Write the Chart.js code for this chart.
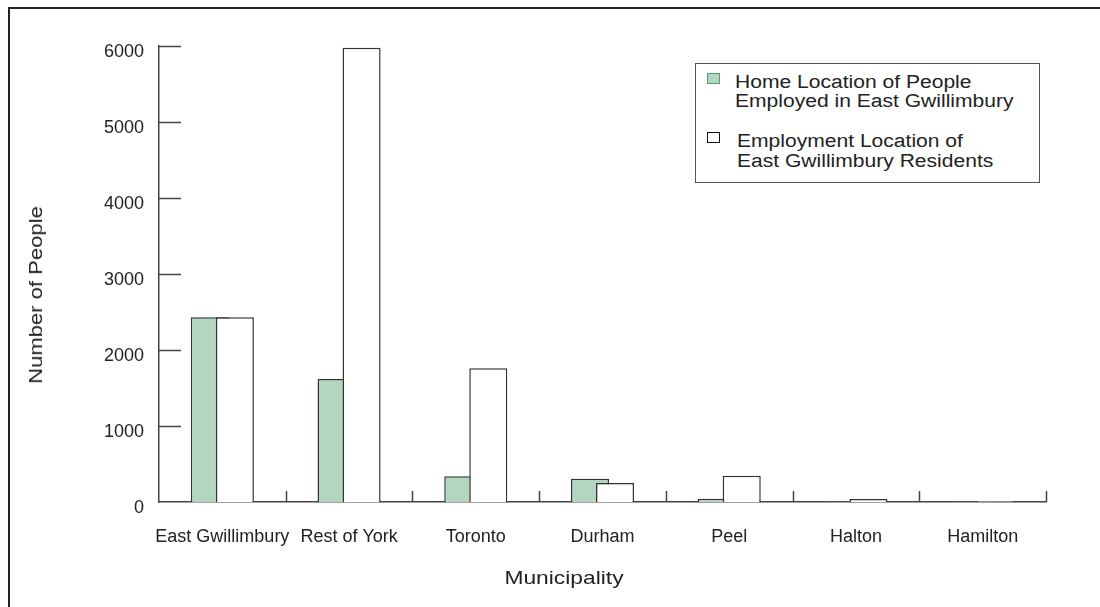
<!DOCTYPE html>
<html>
<head>
<meta charset="utf-8">
<script src="https://cdn.jsdelivr.net/npm/chart.js@4.4.1/dist/chart.umd.min.js"></script>
<style>
  body { margin: 0; background: #fff; }
  #wrap { position: relative; width: 1100px; height: 607px; overflow: hidden; font-family: "Liberation Sans", Arial, sans-serif; color: #222; }
  #frame { position: absolute; left: 8px; top: 7px; width: 1200px; height: 700px; border-top: 2px solid #222; border-left: 2px solid #222; }
  canvas { position: absolute; left: 0; top: 0; }
  .txt { position: absolute; white-space: nowrap; font-size: 18px; line-height: 18px; transform-origin: 0 50%; }
  #legend { position: absolute; left: 695px; top: 63px; width: 343px; height: 118px; border: 1.5px solid #555; background: #fff; }
  .sw { position: absolute; width: 11px; height: 9px; }
  #ytitle { position: absolute; left: 36px; top: 295px; font-size: 19px; white-space: nowrap; transform: translate(-50%, -50%) rotate(-90deg) scaleX(1.16); }
  #xtitle { position: absolute; left: 564px; top: 578px; font-size: 19px; white-space: nowrap; transform: translate(-50%, -50%) scaleX(1.2); }
</style>
</head>
<body>
<div id="wrap">
  <div id="frame"></div>
  <canvas id="myChart" width="1100" height="607"></canvas>
  <div id="legend"></div>
  <div id="ytitle"></div>
  <div id="xtitle"></div>
</div>
<script>
// data
const municipalities = ['East Gwillimbury', 'Rest of York', 'Toronto', 'Durham', 'Peel', 'Halton', 'Hamilton'];
const homeLocation = [2430, 1618, 338, 307, 43, 8, 6];
const employmentLocation = [2430, 5978, 1759, 250, 346, 38, 10];
const yTicks = [0, 1000, 2000, 3000, 4000, 5000, 6000];
const seriesNames = [
  ['Home Location of People', 'Employed in East Gwillimbury'],
  ['Employment Location of', 'East Gwillimbury Residents']
];
const xTitle = 'Municipality';
const yTitle = 'Number of People';

const GREEN = '#b2d6bf';
const INK = '#333';

// draw the green bars first so the white ones overlap them
const drawOrder = {
  id: 'drawOrder',
  beforeDatasetsDraw(chart) {
    const ctx = chart.ctx, a = chart.chartArea;
    ctx.save();
    ctx.beginPath();
    ctx.rect(a.left - 2, a.top - 2, a.right - a.left + 4, a.bottom - a.top + 4);
    ctx.clip();
    [0, 1].forEach(i => chart.getDatasetMeta(i).controller.draw());
    ctx.restore();
    return false;
  }
};

// short inward tick marks like the original
const innerTicks = {
  id: 'innerTicks',
  afterDraw(chart) {
    const ctx = chart.ctx;
    const xs = chart.scales.x, ys = chart.scales.y;
    ctx.save();
    ctx.strokeStyle = '#444';
    ctx.lineWidth = 1.5;
    ctx.beginPath();
    yTicks.forEach(v => {
      if (v === 0) return;
      const py = Math.round(ys.getPixelForValue(v)) + 0.5;
      ctx.moveTo(xs.left, py);
      ctx.lineTo(xs.left + 22, py);
    });
    const n = municipalities.length;
    for (let i = 1; i <= n; i++) {
      const px = Math.round(xs.left + (xs.right - xs.left) * i / n) + 0.5;
      ctx.moveTo(px, ys.bottom);
      ctx.lineTo(px, ys.bottom - 11);
    }
    ctx.stroke();
    ctx.restore();
  }
};

new Chart(document.getElementById('myChart'), {
  type: 'bar',
  data: {
    labels: municipalities,
    datasets: [
      {
        label: seriesNames[0].join(' '),
        data: homeLocation,
        backgroundColor: GREEN,
        borderColor: INK,
        borderWidth: 1.5
      },
      {
        label: seriesNames[1].join(' '),
        data: employmentLocation,
        backgroundColor: '#fff',
        borderColor: INK,
        borderWidth: 1.5
      }
    ]
  },
  options: {
    responsive: false,
    animation: false,
    categoryPercentage: 0.395,
    barPercentage: 1.52,
    layout: { padding: { left: 0, top: 46, right: 54, bottom: 0 } },
    plugins: {
      legend: { display: false },
      tooltip: { enabled: false }
    },
    scales: {
      x: {
        grid: { display: false, drawTicks: false },
        border: { display: true, color: '#444', width: 1.5 },
        ticks: {
          color: '#222', padding: 24, maxRotation: 0, minRotation: 0, autoSkip: false,
          font: { family: 'Liberation Sans', size: 18 }
        },
        afterFit: s => { s.height = 105; }
      },
      y: {
        min: 0,
        max: 6000,
        afterBuildTicks: s => { s.ticks = yTicks.map(v => ({ value: v })); },
        grid: { display: false, drawTicks: false },
        border: { display: true, color: '#444', width: 1.5 },
        ticks: {
          color: '#222', padding: 15, labelOffset: 6,
          callback: v => String(v),
          font: { family: 'Liberation Sans', size: 18 }
        },
        afterFit: s => { s.width = 159; }
      }
    }
  },
  plugins: [drawOrder, innerTicks]
});

// legend box and axis titles as text
const legend = document.getElementById('legend');
const swatches = [{ fill: GREEN, stroke: '#5a9a72' }, { fill: '#fff', stroke: '#111' }];
const rowTops = [[18, 37], [77, 97]];
seriesNames.forEach((lines, i) => {
  const sw = document.createElement('div');
  sw.className = 'sw';
  sw.style.left = '11px';
  sw.style.top = (rowTops[i][0] - 9) + 'px';
  sw.style.background = swatches[i].fill;
  sw.style.border = '1.5px solid ' + swatches[i].stroke;
  legend.appendChild(sw);
  lines.forEach((t, j) => {
    const d = document.createElement('div');
    d.className = 'txt';
    d.textContent = t;
    d.style.left = (i === 0 ? 39 : 41) + 'px';
    d.style.top = (rowTops[i][j] - 9) + 'px';
    d.style.transform = 'scaleX(1.17)';
    legend.appendChild(d);
  });
});
document.getElementById('ytitle').textContent = yTitle;
document.getElementById('xtitle').textContent = xTitle;
</script>
</body>
</html>
